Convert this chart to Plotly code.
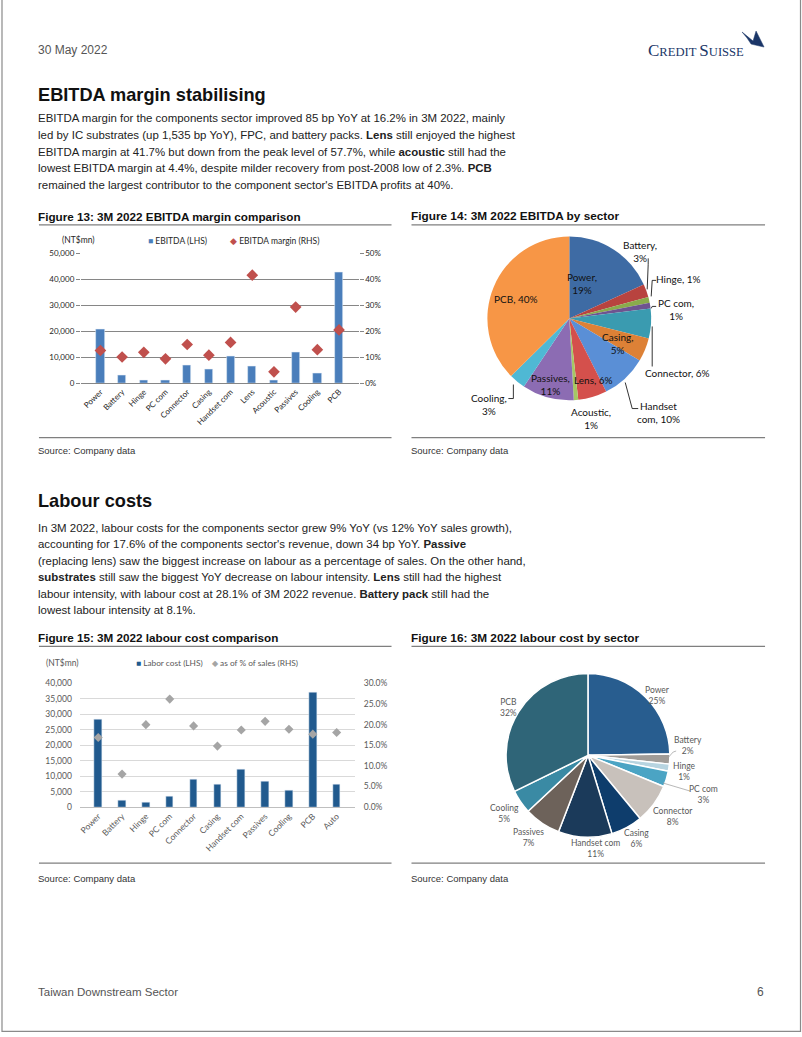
import plotly.graph_objects as go

W, H = 802, 1037
# the photographed page maps figure px -> image px as  img = 5 + 0.989 * fig  (vertical only)
OFF, SC = 5.0, 0.989


def X(px):
    return px / W


def Y(py):
    return 1 - ((py - OFF) / SC) / H


# ---------------- data ----------------
ebitda_cats = ["Power", "Battery", "Hinge", "PC com", "Connector", "Casing",
               "Handset com", "Lens", "Acoustic", "Passives", "Cooling", "PCB"]
ebitda_values = [20800, 3000, 1300, 1300, 6700, 5300, 10300, 6500, 1000, 11700, 3700, 42800]
ebitda_margin = [0.126, 0.101, 0.119, 0.094, 0.149, 0.108, 0.157, 0.416, 0.044, 0.293, 0.129, 0.205]
ebitda_pie_text = ["Power,<br>19%", "Battery,<br>3%", "Hinge, 1%", "PC com,<br>1%", "Connector, 6%",
                   "Casing,<br>5%", "Handset<br>com, 10%", "Lens, 6%", "Acoustic,<br>1%",
                   "Passives,<br>11%", "Cooling,<br>3%", "PCB, 40%"]
ebitda_pie_colors = ["#3e6ba4", "#b8433f", "#8aab4c", "#6e5490", "#3a9bb0", "#dd8136",
                     "#5a8fd6", "#d4504c", "#a5c864", "#8c6cb3", "#4fb8d4", "#f79646"]

labor_cats = ["Power", "Battery", "Hinge", "PC com", "Connector", "Casing",
              "Handset com", "Passives", "Cooling", "PCB", "Auto"]
labor_values = [28500, 2300, 1600, 3600, 9000, 7200, 12200, 8300, 5400, 37200, 7300]
labor_pct = [0.169, 0.080, 0.200, 0.262, 0.197, 0.148, 0.187, 0.208, 0.189, 0.177, 0.181]
labor_pie_cats = labor_cats[:10]
labor_pie_values = labor_values[:10]
labor_pie_text = ["Power<br>25%", "Battery<br>2%", "Hinge<br>1%", "PC com<br>3%", "Connector<br>8%",
                  "Casing<br>6%", "Handset com<br>11%", "Passives<br>7%", "Cooling<br>5%", "PCB<br>32%"]
labor_pie_colors = ["#285d8f", "#a09c98", "#b7d4e0", "#4ba4c4", "#c8c1bb",
                    "#0e3d6c", "#1b3a5a", "#6d625a", "#3a8aa4", "#2f6578"]

para1 = [
    "EBITDA margin for the components sector improved 85 bp YoY at 16.2% in 3M 2022, mainly",
    "led by IC substrates (up 1,535 bp YoY), FPC, and battery packs. <b>Lens</b> still enjoyed the highest",
    "EBITDA margin at 41.7% but down from the peak level of 57.7%, while <b>acoustic</b> still had the",
    "lowest EBITDA margin at 4.4%, despite milder recovery from post-2008 low of 2.3%. <b>PCB</b>",
    "remained the largest contributor to the component sector's EBITDA profits at 40%.",
]
para2 = [
    "In 3M 2022, labour costs for the components sector grew 9% YoY (vs 12% YoY sales growth),",
    "accounting for 17.6% of the components sector's revenue, down 34 bp YoY. <b>Passive</b>",
    "(replacing lens) saw the biggest increase on labour as a percentage of sales. On the other hand,",
    "<b>substrates</b> still saw the biggest YoY decrease on labour intensity. <b>Lens</b> still had the highest",
    "labour intensity, with labour cost at 28.1% of 3M 2022 revenue. <b>Battery pack</b> still had the",
    "lowest labour intensity at 8.1%.",
]

BODY = "Liberation Sans, Arial, sans-serif"
CHART = "Lato, Open Sans, sans-serif"

fig = go.Figure()

# ---------- Figure 13: bars + margin ----------
fig.add_trace(go.Bar(x=ebitda_cats, y=ebitda_values, name="EBITDA (LHS)",
                     marker=dict(color="#4a7ebb"), width=0.38, showlegend=False,
                     xaxis="x", yaxis="y"))
fig.add_trace(go.Scatter(x=ebitda_cats, y=ebitda_margin, name="EBITDA margin (RHS)", mode="markers",
                         marker=dict(symbol="diamond", size=9, color="#c0504d"), showlegend=False,
                         xaxis="x", yaxis="y2"))

# ---------- Figure 15: labour bars + pct ----------
fig.add_trace(go.Bar(x=labor_cats, y=labor_values, name="Labor cost (LHS)",
                     marker=dict(color="#215a8e"), width=0.32, showlegend=False,
                     xaxis="x3", yaxis="y3"))
fig.add_trace(go.Scatter(x=labor_cats, y=labor_pct, name="as of % of sales (RHS)", mode="markers",
                         marker=dict(symbol="diamond", size=7, color="#a5a5a5"), showlegend=False,
                         xaxis="x3", yaxis="y4"))

# ---------- Figure 14 pie ----------
fig.add_trace(go.Pie(labels=ebitda_cats, values=ebitda_values, sort=False, direction="clockwise",
                     rotation=0, textinfo="none", hoverinfo="label+percent", showlegend=False,
                     marker=dict(colors=ebitda_pie_colors, line=dict(width=0)),
                     domain=dict(x=[X(487), X(651)], y=[Y(400), Y(236)])))

# ---------- Figure 16 pie ----------
fig.add_trace(go.Pie(labels=labor_pie_cats, values=labor_pie_values, sort=False, direction="clockwise",
                     rotation=0, textinfo="none", hoverinfo="label+percent", showlegend=False,
                     marker=dict(colors=labor_pie_colors, line=dict(width=1.5, color="white")),
                     domain=dict(x=[X(505.7), X(669.7)], y=[Y(836.3), Y(672.3)])))

tickfont1 = dict(family=CHART, size=8, color="#262626")
tickfont3 = dict(family=CHART, size=8.5, color="#595959")

fig.update_layout(
    width=W, height=H, margin=dict(l=0, r=0, t=0, b=0),
    paper_bgcolor="white", plot_bgcolor="rgba(0,0,0,0)",
    bargap=0, showlegend=False,
    xaxis=dict(domain=[X(80), X(358)], anchor="y", tickangle=-45, tickfont=tickfont1,
               showline=True, linecolor="#868686", linewidth=1, ticks="", fixedrange=True),
    yaxis=dict(domain=[Y(382.7), Y(253)], range=[0, 50000], tickvals=[0, 10000, 20000, 30000, 40000, 50000],
               tickformat=",d", tickfont=tickfont1, showgrid=True, gridcolor="#868686", gridwidth=1,
               ticks="outside", ticklen=4, tickcolor="#868686", zeroline=False, fixedrange=True),
    yaxis2=dict(overlaying="y", anchor="x", side="right", range=[0, 0.5],
                tickvals=[0, 0.1, 0.2, 0.3, 0.4, 0.5], tickformat=".0%", tickfont=tickfont1,
                showgrid=False, ticks="outside", ticklen=4, tickcolor="#868686", zeroline=False, fixedrange=True),
    xaxis3=dict(domain=[X(79.2), X(354.2)], anchor="y3", tickangle=-45, tickfont=tickfont3,
                showline=True, linecolor="#bfbfbf", linewidth=1, ticks="", fixedrange=True),
    yaxis3=dict(domain=[Y(806), Y(682.5)], range=[0, 40000], tickvals=list(range(0, 40001, 5000)),
                tickformat=",d", tickfont=tickfont3, showgrid=True, gridcolor="#d9d9d9", gridwidth=1,
                zeroline=False, fixedrange=True, ticks="", ticklabelstandoff=8),
    yaxis4=dict(overlaying="y3", anchor="x3", side="right", range=[0, 0.30],
                tickvals=[0, 0.05, 0.10, 0.15, 0.20, 0.25, 0.30], tickformat=".1%", tickfont=tickfont3,
                showgrid=False, zeroline=False, fixedrange=True, ticks="", ticklabelstandoff=8),
)

ann = []
shapes = []


def text(px, py, s, size=12, color="#222", family=BODY, xanchor="left", yanchor="middle", align="left"):
    ann.append(dict(x=X(px), y=Y(py), xref="paper", yref="paper", text=s, showarrow=False,
                    xanchor=xanchor, yanchor=yanchor, align=align, borderpad=0,
                    font=dict(size=size, color=color, family=family)))


def hline(x0, x1, py, color="#7f7f7f", width=1.3):
    shapes.append(dict(type="line", xref="paper", yref="paper", x0=X(x0), x1=X(x1), y0=Y(py), y1=Y(py),
                       line=dict(color=color, width=width)))


def path(points, color="#000", width=0.8, fill=None):
    d = "M " + " L ".join(f"{X(a):.5f},{Y(b):.5f}" for a, b in points)
    if fill:
        d += " Z"
    shapes.append(dict(type="path", xref="paper", yref="paper", path=d,
                       line=dict(color=color, width=width), fillcolor=fill if fill else None))


# page frame
shapes.append(dict(type="rect", xref="paper", yref="paper", x0=X(1), x1=X(800.5), y0=0.0007, y1=1.05,
                   line=dict(color="#8a8a8a", width=1.2)))

# header
text(36.5, 50, "30 May 2022", size=12, color="#555")
text(647, 50, "<span style='font-size:17px'>C</span>REDIT <span style='font-size:17px'>S</span>UISSE",
     size=12.6, color="#1b3668", family="Liberation Serif, Times New Roman, serif")
path([(742, 32), (753, 41), (756, 31), (764, 47), (751, 44), (747, 38)], color="#1b3668", width=0.5, fill="#1b3668")

# section 1
text(36.5, 95, "<b>EBITDA margin stabilising</b>", size=18.2, color="#111")
for i, line in enumerate(para1):
    text(36.5, 118 + i * 16.7, line, size=11.45, color="#222")

text(36.5, 216, "<b>Figure 13: 3M 2022 EBITDA margin comparison</b>", size=11.7, color="#111")
text(409.5, 216, "<b>Figure 14: 3M 2022 EBITDA by sector</b>", size=11.8, color="#111")
hline(38, 391, 224.5)
hline(411, 765, 224.5)
hline(38, 391, 437)
hline(411, 765, 437)
text(36.5, 450, "Source: Company data", size=9.5, color="#333")
text(409.5, 450, "Source: Company data", size=9.5, color="#333")
text(60, 240, "(NT$mn)", size=8.5, color="#262626", family=CHART)
# legend 13
text(146, 240.5, "<span style='color:#4a7ebb'>■</span> EBITDA (LHS)", size=8.5, color="#262626", family=CHART)
text(228, 240.5, "<span style='color:#c0504d'>◆</span> EBITDA margin (RHS)", size=8.5, color="#262626", family=CHART)

# section 2
text(36.5, 500, "<b>Labour costs</b>", size=18.2, color="#111")
for i, line in enumerate(para2):
    text(36.5, 527 + i * 16.5, line, size=11.45, color="#222")

text(36.5, 637, "<b>Figure 15: 3M 2022 labour cost comparison</b>", size=11.7, color="#111")
text(409.5, 637, "<b>Figure 16: 3M 2022 labour cost by sector</b>", size=11.8, color="#111")
hline(38, 391, 645.5)
hline(411, 765, 645.5)
hline(38, 391, 862)
hline(411, 765, 862)
text(36.5, 877, "Source: Company data", size=9.5, color="#333")
text(409.5, 877, "Source: Company data", size=9.5, color="#333")
text(44, 662, "(NT$mn)", size=8.5, color="#595959", family=CHART)
# legend 15
text(134, 662, "<span style='color:#215a8e'>■</span> Labor cost (LHS)", size=8.3, color="#595959", family=CHART)
text(210, 662, "<span style='color:#a5a5a5'>◆</span> as of % of sales (RHS)", size=8.3, color="#595959", family=CHART)

# footer
text(36.5, 991, "Taiwan Downstream Sector", size=11.5, color="#555")
text(765, 991, "6", size=12, color="#555", xanchor="right")

# pie 1 labels
pie1_pos = [(582, 283), (640, 251), (678, 279), (676, 309), (677, 372), (617, 343),
            (658, 411.5), (593, 379), (591, 418), (550, 384), (489, 403.5), (516, 299)]
for (px, py), s in zip(pie1_pos, ebitda_pie_text):
    text(px, py, s, size=10, color="#111", family=CHART, xanchor="center", align="center")
path([(648, 258), (648, 264), (647, 289)])
path([(656, 280), (652, 280), (651, 296)])
path([(656, 306), (652, 306), (651, 308)])
path([(652, 366), (652, 326)])
path([(625, 382), (632, 408), (638, 408)])
path([(513, 384), (513, 398), (508, 398)])

# pie 2 labels
pie2_pos = [(657, 695), (688, 744), (684, 770.5), (703, 793), (673, 815),
            (636, 837), (595, 847.5), (528, 836), (504, 812), (508, 707)]
for (px, py), s in zip(pie2_pos, labor_pie_text):
    text(px, py, s, size=8.5, color="#595959", family=CHART, xanchor="center", align="center")
path([(668.5, 756), (673, 751), (676, 750)], color="#a6a6a6")
path([(663, 782), (690, 790)], color="#a6a6a6")

fig.update_layout(annotations=ann, shapes=shapes)

fig.write_html("out.html", config={"displayModeBar": False},
               post_script="document.body.style.margin='0px';document.body.style.overflow='hidden';")
